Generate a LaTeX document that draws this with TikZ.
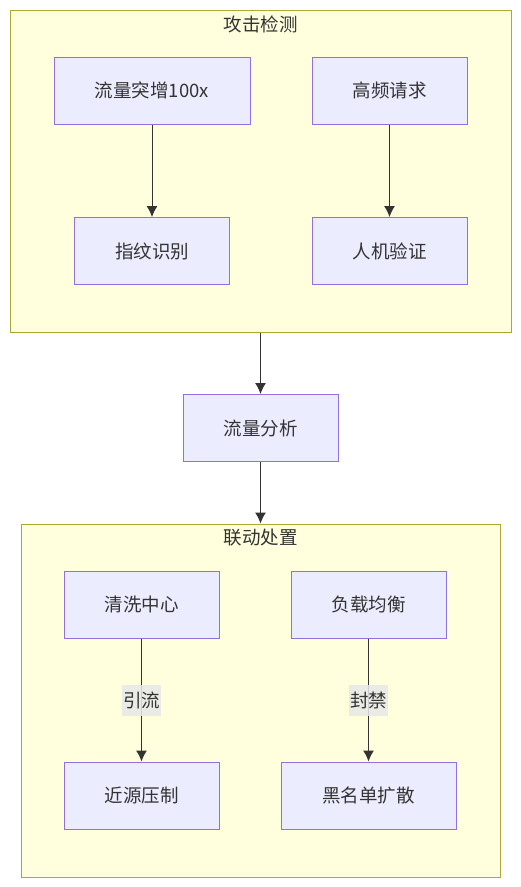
\documentclass[tikz,border=0pt]{standalone}
\usepackage{fontspec}
\newfontfamily\cjk{Noto Sans CJK SC}
\usetikzlibrary{arrows.meta}

\definecolor{boxfill}{HTML}{ECECFF}
\definecolor{boxline}{HTML}{9370DB}
\definecolor{grpfill}{HTML}{FFFFDE}
\definecolor{grpline}{HTML}{AAAA33}
\definecolor{txt}{HTML}{333333}
\definecolor{lblfill}{HTML}{E8E8E8}

\tikzset{
    stepbox/.style={draw=boxline, fill=boxfill, line width=1pt, text=txt,
        minimum width=155pt, minimum height=67pt, inner sep=0pt,
        font=\cjk\fontsize{18.5}{22}\selectfont},
    groupbox/.style={draw=grpline, fill=grpfill, line width=1pt, inner sep=0pt},
    grouptitle/.style={text=txt, font=\cjk\fontsize{18.5}{22}\selectfont},
    flow/.style={draw=txt, line width=1pt, -{Latex[length=11pt,width=11pt]}},
    flowlabel/.style={fill=lblfill, fill opacity=0.85, text opacity=1, text=txt,
        inner xsep=1pt, minimum height=31pt, font=\cjk\fontsize{18.5}{22}\selectfont}
}

\begin{document}
\begin{tikzpicture}[x=1pt, y=-1pt]

\useasboundingbox (0,0) rectangle (521,887);

% STEP 1: The two groups.
\node[groupbox, minimum width=501pt, minimum height=322pt] (detect) at (260.5,171) {};
\node[grouptitle] (detecttitle) at (260.5,24) {攻击检测};
\node[groupbox, minimum width=479pt, minimum height=353pt] (respond) at (260.5,700.5) {};
\node[grouptitle] (respondtitle) at (260.5,538) {联动处置};

% STEP 2: Boxes inside the detection group.
\node[stepbox, minimum width=196pt] (surge) at (152,90.5) {流量突增100x};
\node[stepbox] (highfreq) at (389.5,90.5) {高频请求};
\node[stepbox] (fingerprint) at (152,251) {指纹识别};
\node[stepbox] (captcha) at (389.5,251) {人机验证};

% STEP 3: The analysis box between the groups.
\node[stepbox] (analysis) at (260.5,428) {流量分析};

% STEP 4: Boxes inside the response group.
\node[stepbox] (scrub) at (141.5,604.5) {清洗中心};
\node[stepbox] (balance) at (368.5,604.5) {负载均衡};
\node[stepbox] (suppress) at (141.5,795.5) {近源压制};
\node[stepbox, minimum width=175pt] (blacklist) at (368.5,795.5) {黑名单扩散};

% STEP 5: Connectors.
\draw[flow] (surge) -- (fingerprint);
\draw[flow] (highfreq) -- (captcha);
\draw[flow] (detect.south) -- (analysis);
\draw[flow] (analysis) -- (respond.north);
\draw[flow] (scrub) -- node[flowlabel] (divert) {引流} (suppress);
\draw[flow] (balance) -- node[flowlabel] (block) {封禁} (blacklist);

\end{tikzpicture}
\end{document}
